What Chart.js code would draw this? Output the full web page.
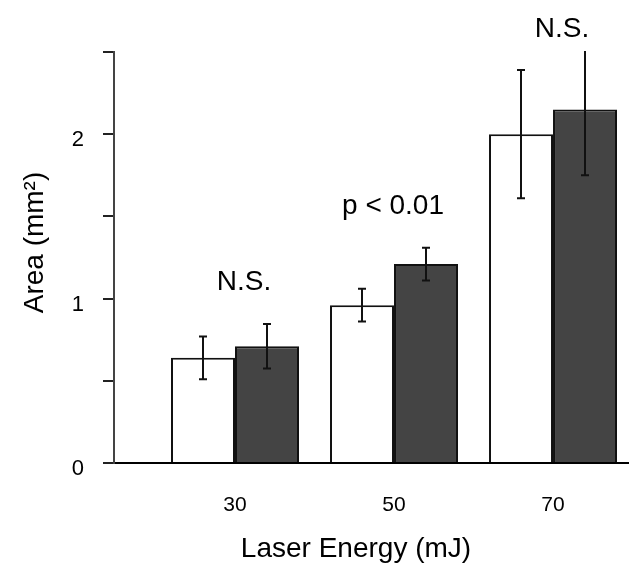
<!DOCTYPE html>
<html><head><meta charset="utf-8">
<script src="https://cdn.jsdelivr.net/npm/chart.js@4.4.1/dist/chart.umd.min.js"></script>
<style>html,body{margin:0;padding:0;background:#fff}#wrap{width:630px;height:566px}</style>
</head><body><div id="wrap"><canvas id="c" width="630" height="566"></canvas></div>
<script>
// ---- data ----
const energies = [30, 50, 70];
const energyLabels = ['30', '50', '70'];
const whiteArea = [0.64, 0.96, 2.00];
const whiteErr = [0.13, 0.10, 0.39];
const darkArea = [0.71, 1.21, 2.15];
const darkErr = [0.135, 0.10, 0.40];
const significance = ['N.S.', 'p < 0.01', 'N.S.'];
const significanceLevel = [1.10, 1.56, 2.64];
const yLabelled = [0, 1, 2];
const xTitle = 'Laser Energy (mJ)';
const yTitle = 'Area (mm\u00B2)';

const FONT = "'Liberation Sans', Arial, Helvetica, sans-serif";
const errs = [whiteErr, darkErr];
const vals = [whiteArea, darkArea];

const extras = {
  id: 'extras',
  afterDatasetsDraw(chart) {
    const ctx = chart.ctx, ys = chart.scales.y, ca = chart.chartArea;
    ctx.save();
    ctx.beginPath();
    ctx.rect(ca.left - 10, ca.top - 1, ca.right - ca.left + 20, ca.bottom - ca.top + 2);
    ctx.clip();
    ctx.strokeStyle = '#111';
    ctx.lineWidth = 2;
    for (let d = 0; d < 2; d++) {
      const meta = chart.getDatasetMeta(d);
      meta.data.forEach((el, i) => {
        const v = vals[d][i], e = errs[d][i];
        const top = ys.getPixelForValue(v + e), bot = ys.getPixelForValue(v - e);
        const x = Math.round(el.x);
        ctx.beginPath();
        ctx.moveTo(x, top); ctx.lineTo(x, bot);
        ctx.moveTo(x - 4, top); ctx.lineTo(x + 4, top);
        ctx.moveTo(x - 4, bot); ctx.lineTo(x + 4, bot);
        ctx.stroke();
      });
    }
    ctx.restore();
  },
  afterDraw(chart) {
    const ctx = chart.ctx, xs = chart.scales.x, ys = chart.scales.y, ca = chart.chartArea;
    ctx.save();
    ctx.fillStyle = '#000';
    ctx.textAlign = 'center';
    ctx.textBaseline = 'middle';
    ctx.font = '28px ' + FONT;
    energies.forEach((en, i) => {
      const dx = significance[i] === 'N.S.' ? 9 : -1;
      ctx.fillText(significance[i], xs.getPixelForValue(en) + dx, ys.getPixelForValue(significanceLevel[i]));
    });
    // axis titles
    ctx.fillText(xTitle, (ca.left + ca.right) / 2 - 15, 549);
    ctx.translate(35, (ca.top + ca.bottom) / 2 - 15);
    ctx.rotate(-Math.PI / 2);
    ctx.fillText(yTitle, 0, 0);
    ctx.restore();
  }
};

new Chart(document.getElementById('c'), {
  type: 'bar',
  data: {
    datasets: [
      { label: 'white', data: energies.map((x, i) => ({ x, y: whiteArea[i] })),
        backgroundColor: '#ffffff', borderColor: '#111', borderWidth: 2 },
      { label: 'dark', data: energies.map((x, i) => ({ x, y: darkArea[i] })),
        backgroundColor: '#444444', borderColor: '#111', borderWidth: 2 }
    ]
  },
  options: {
    responsive: false,
    animation: false,
    devicePixelRatio: 1,
    categoryPercentage: 0.805,
    barPercentage: 1,
    layout: { padding: { top: 52, right: 2, left: 0, bottom: 0 } },
    plugins: { legend: { display: false }, tooltip: { enabled: false } },
    scales: {
      x: {
        type: 'linear', offset: false, min: 14.78, max: 79.43,
        afterBuildTicks(s) { s.ticks = energies.map(v => ({ value: v })); },
        afterFit(s) { s.height = 103; },
        grid: { display: false, drawTicks: false, offset: false },
        border: { display: true, color: '#000', width: 2 },
        ticks: { padding: 30, color: '#000', font: { family: FONT, size: 21 },
          callback: (v) => energyLabels[energies.indexOf(v)] ?? '' }
      },
      y: {
        min: 0, max: 2.5,
        afterFit(s) { s.width = 114; },
        grid: { drawOnChartArea: false, drawTicks: true, tickLength: 11, color: '#222', lineWidth: 2 },
        border: { display: true, color: '#444', width: 2 },
        ticks: { stepSize: 0.5, padding: 19, labelOffset: 6, color: '#000', font: { family: FONT, size: 22 },
          callback: (v) => yLabelled.includes(v) ? String(v) : '' }
      }
    }
  },
  plugins: [extras]
});
</script></body></html>
